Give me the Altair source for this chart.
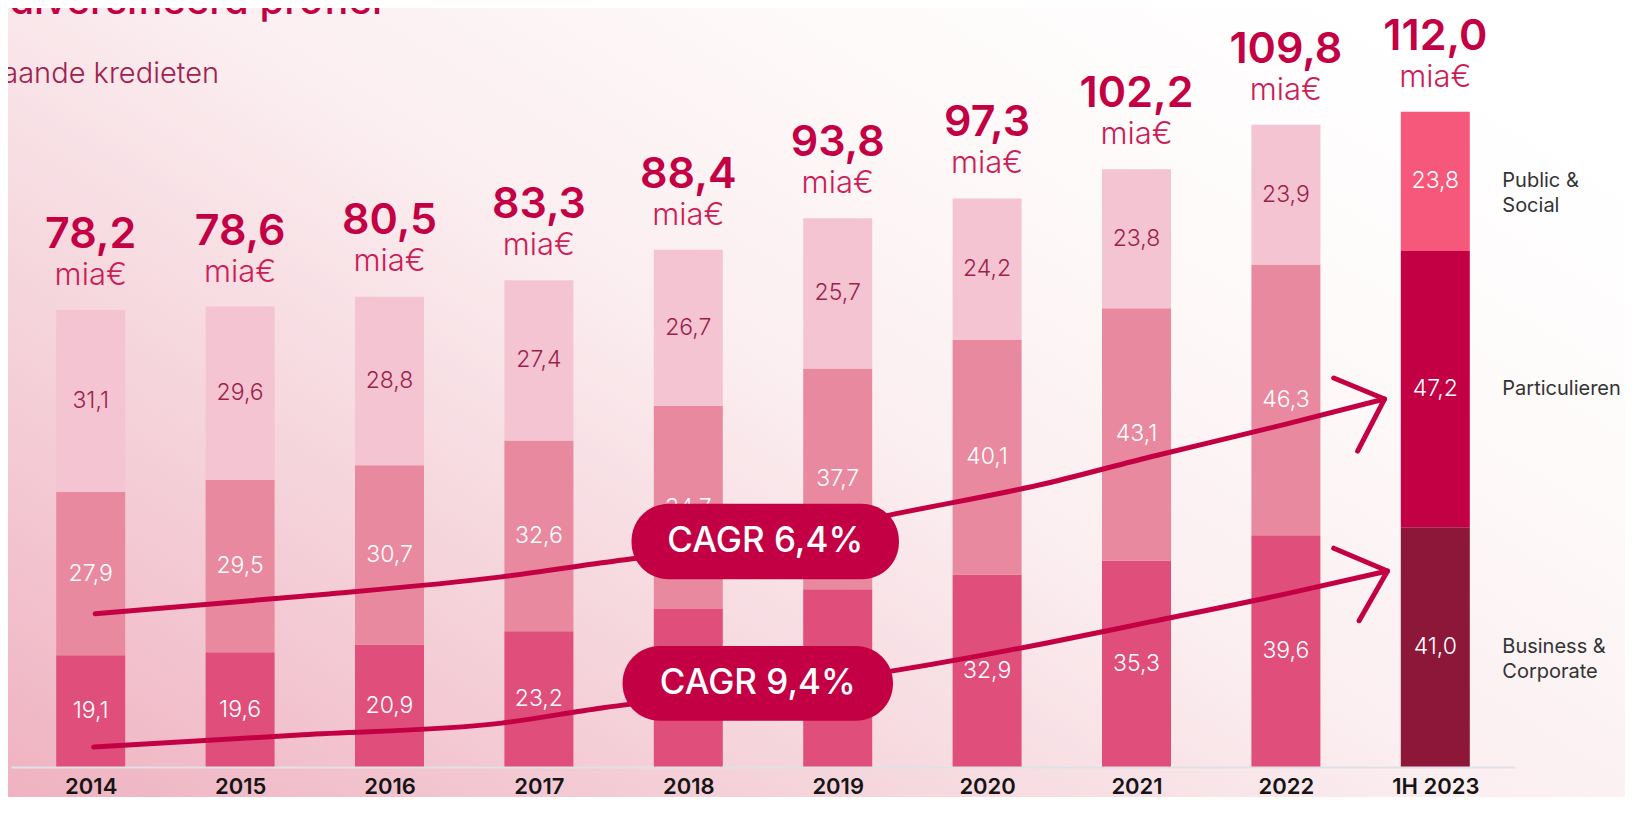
import altair as alt
import pandas as pd

# ---------------- data ----------------
categories = ["2014", "2015", "2016", "2017", "2018", "2019", "2020", "2021", "2022", "1H 2023"]
business = [19.1, 19.6, 20.9, 23.2, 27.0, 30.4, 32.9, 35.3, 39.6, 41.0]
particulieren = [27.9, 29.5, 30.7, 32.6, 34.7, 37.7, 40.1, 43.1, 46.3, 47.2]
public_social = [31.1, 29.6, 28.8, 27.4, 26.7, 25.7, 24.2, 23.8, 23.9, 23.8]
totals = [78.2, 78.6, 80.5, 83.3, 88.4, 93.8, 97.3, 102.2, 109.8, 112.0]
segments = ["Business & Corporate", "Particulieren", "Public & Social"]
segment_names = ["Business &\nCorporate", "Particulieren", "Public &\nSocial"]
colors_base = ["#e04f7b", "#e9899f", "#f4c4d2"]
colors_last = ["#8c1738", "#c40044", "#f5587a"]
unit_label = "mia€"
title_text = "Gediversifieerd profiel"
subtitle_text = "Uitstaande kredieten"

# CAGR annotations (in data units: x = category position, y = mia€)
cagr_labels = ["CAGR 6,4%", "CAGR 9,4%"]
cagr_box_x = [3.62, 3.56]
cagr_box_x2 = [5.41, 5.37]
cagr_box_y = [32.1, 7.9]
cagr_box_y2 = [45.0, 20.7]
upper_x = [0.03, 1.42, 2.75, 3.42, 4.52, 5.41, 6.40, 7.09, 8.00, 8.66]
upper_y = [26.2, 29.2, 32.5, 34.9, 38.8, 43.4, 48.5, 53.0, 58.6, 62.9]
lower_x = [0.02, 1.42, 2.75, 3.42, 4.48, 5.41, 6.40, 7.09, 8.00, 8.68]
lower_y = [3.4, 5.5, 7.5, 10.1, 13.2, 16.6, 21.2, 24.8, 29.6, 33.5]
upper_head_x = [8.32, 8.66, 8.48]
upper_head_y = [66.5, 62.9, 54.0]
lower_head_x = [8.32, 8.68, 8.49]
lower_head_y = [37.4, 33.5, 25.0]

FONT = "Inter"
MAGENTA = "#c40044"


def fmt(v):
    return f"{v:.1f}".replace(".", ",")


# ---------------- tables ----------------
rows = []
for i, cat in enumerate(categories):
    start = 0.0
    for s, vals in zip(segments, [business, particulieren, public_social]):
        v = vals[i]
        rows.append(dict(
            x=i, cat=cat, seg=s, y=start, y2=start + v, mid=start + v / 2,
            label=fmt(v), key=("last " if i == len(categories) - 1 else "") + s,
            dark=(s == "Public & Social" and i < len(categories) - 1),
        ))
        start += v
seg_df = pd.DataFrame(rows)

tot_df = pd.DataFrame(dict(x=list(range(len(categories))), total=totals,
                           label=[fmt(t) for t in totals], unit=[unit_label] * len(totals)))

last_df = seg_df[seg_df["x"] == len(categories) - 1].copy()
last_df["name"] = segment_names

curve_rows = []
for name, xs, ys in [("upper", upper_x, upper_y), ("lower", lower_x, lower_y)]:
    for k, (a, b) in enumerate(zip(xs, ys)):
        curve_rows.append(dict(line=name, o=k, x=a, y=b))
curve_df = pd.DataFrame(curve_rows)

head_rows = []
for name, xs, ys in [("upper", upper_head_x, upper_head_y), ("lower", lower_head_x, lower_head_y)]:
    for k, (a, b) in enumerate(zip(xs, ys)):
        head_rows.append(dict(line=name, o=k, x=a, y=b))
head_df = pd.DataFrame(head_rows)

box_df = pd.DataFrame(dict(label=cagr_labels, x=cagr_box_x, x2=cagr_box_x2,
                           y=cagr_box_y, y2=cagr_box_y2))
box_df["xm"] = (box_df["x"] + box_df["x2"]) / 2
box_df["ym"] = (box_df["y"] + box_df["y2"]) / 2

# ---------------- scales ----------------
xscale = alt.Scale(domain=[-0.5, len(categories) - 0.5], nice=False, zero=False)
yscale = alt.Scale(domain=[0, 120], nice=False, zero=True)
label_expr = "[" + ",".join("'" + c + "'" for c in categories) + "][datum.value]"
xaxis = alt.Axis(values=list(range(len(categories))), labelExpr=label_expr, title=None,
                 grid=False, ticks=False, tickSize=0, domain=True, domainColor="#dfe1e6",
                 domainWidth=2, labelFont=FONT, labelFontSize=22, labelFontWeight=600,
                 labelColor="#151515", labelPadding=9, labelFlush=False, zindex=1)


def X(field):
    return alt.X(field, type="quantitative", scale=xscale, axis=xaxis)


def Y(field):
    return alt.Y(field, type="quantitative", scale=yscale, axis=None)


# ---------------- layers ----------------
one = pd.DataFrame({"a": [0]})
background = alt.Chart(one).mark_rect(
    color=alt.LinearGradient(
        gradient="linear",
        stops=[
            alt.GradientStop(color="#efb2c1", offset=0),
            alt.GradientStop(color="#f5d3db", offset=0.3),
            alt.GradientStop(color="#fbeef0", offset=0.55),
            alt.GradientStop(color="#fefafa", offset=0.8),
            alt.GradientStop(color="#ffffff", offset=1),
        ],
        x1=0, y1=1, x2=1, y2=0.2,
    )
).encode(x=alt.value(-3), x2=alt.value(1614), y=alt.value(-57), y2=alt.value(732))

bars = alt.Chart(seg_df).mark_bar(size=69).encode(
    x=X("x"), y=Y("y"), y2=alt.Y2("y2"),
    color=alt.Color("key:N", legend=None,
                    scale=alt.Scale(domain=segments + ["last " + s for s in segments],
                                    range=colors_base + colors_last)),
)

seg_labels = alt.Chart(seg_df).mark_text(
    font=FONT, fontSize=23, fontWeight=300, baseline="middle", align="center"
).encode(
    x=X("x"), y=Y("mid"), text="label:N",
    color=alt.condition("datum.dark", alt.value("#9c1f4c"), alt.value("#ffffff")),
)

curves = alt.Chart(curve_df).mark_line(
    interpolate="monotone", strokeWidth=5, strokeCap="round", color=MAGENTA
).encode(x=X("x"), y=Y("y"), detail="line:N", order="o:Q")

heads = alt.Chart(head_df).mark_line(
    strokeWidth=5, strokeCap="round", strokeJoin="round", color=MAGENTA
).encode(x=X("x"), y=Y("y"), detail="line:N", order="o:Q")

boxes = alt.Chart(box_df).mark_rect(cornerRadius=37, color=MAGENTA).encode(
    x=X("x"), x2=alt.X2("x2"), y=Y("y"), y2=alt.Y2("y2"))

box_text = alt.Chart(box_df).mark_text(
    font=FONT, fontSize=35, fontWeight=500, color="#ffffff", baseline="middle", align="center"
).encode(x=X("xm"), y=Y("ym"), text="label:N")

tot_text = alt.Chart(tot_df).mark_text(
    font=FONT, fontSize=43, fontWeight=600, color=MAGENTA, baseline="alphabetic",
    align="center", dy=-62
).encode(x=X("x"), y=Y("total"), text="label:N")

unit_text = alt.Chart(tot_df).mark_text(
    font=FONT, fontSize=31, fontWeight=300, color="#cc1d56", baseline="alphabetic",
    align="center", dy=-25
).encode(x=X("x"), y=Y("total"), text="unit:N")

legend_text = alt.Chart(last_df).mark_text(
    font=FONT, fontSize=20, fontWeight=400, color="#333333", baseline="middle",
    align="left", dx=67, lineBreak="\n", lineHeight=25
).encode(x=X("x"), y=Y("mid"), text="name:N")

title_df = pd.DataFrame({"t": [title_text]})
sub_df = pd.DataFrame({"t": [subtitle_text]})
title_mark = alt.Chart(title_df).mark_text(
    font=FONT, fontSize=40, fontWeight=500, color=MAGENTA, align="right", baseline="alphabetic"
).encode(x=alt.value(371), y=alt.value(-51), text="t:N")
sub_mark = alt.Chart(sub_df).mark_text(
    font=FONT, fontSize=29, fontWeight=300, color="#a0204f", align="right", baseline="alphabetic"
).encode(x=alt.value(208), y=alt.value(18), text="t:N")

chart = alt.layer(
    background, bars, seg_labels, curves, heads, boxes, box_text,
    tot_text, unit_text, legend_text, title_mark, sub_mark
).properties(
    width=1504, height=702,
    padding={"left": 3, "top": 57, "right": 110, "bottom": 30},
    autosize=alt.AutoSizeParams(type="none"),
    background="#ffffff",
).configure_view(stroke=None)

chart.save("out.html", embed_options={"renderer": "svg", "actions": False})
